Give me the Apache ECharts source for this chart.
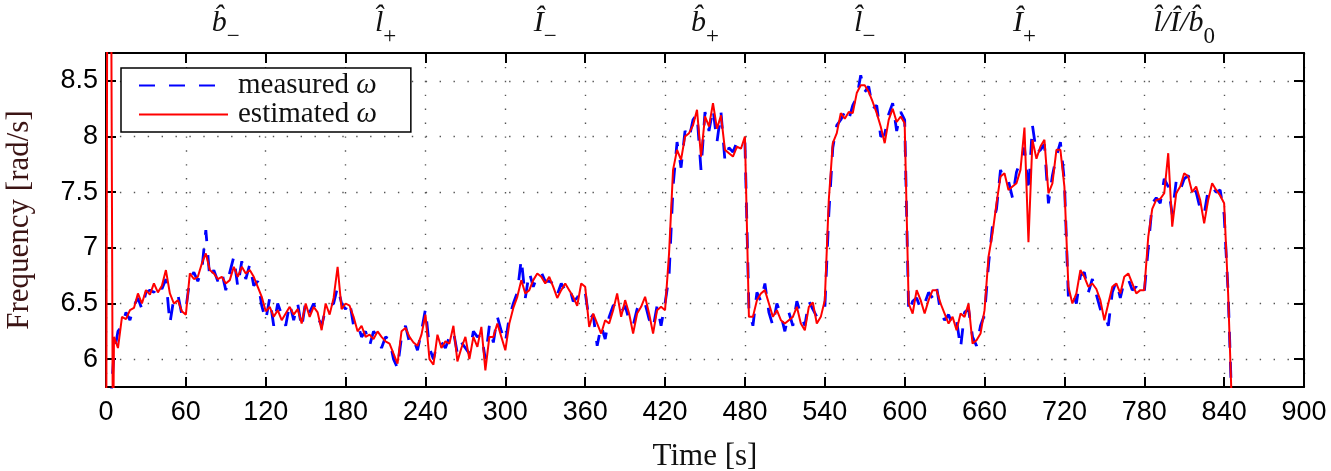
<!DOCTYPE html>
<html>
<head>
<meta charset="utf-8">
<script src="https://cdn.jsdelivr.net/npm/echarts@6/dist/echarts.min.js"></script>
<style>html,body{margin:0;padding:0;background:#fff}#c{width:1331px;height:471px}</style>
</head>
<body>
<div id="c"></div>
<script>
// ---- data ----
const timeStart = 6;   // s, first regular sample
const timeStep = 3;    // s, sampling step of the arrays below
// start-up transient (time, value)
const estStartT = [0, 1.2, 3.4, 5.2];
const estStartV = [4.0, 11.0, 11.0, 5.0];
const mesStartT = [3.5, 5];
const mesStartV = [5.6, 5.88];

const estimated = [
  6.2, 6.1, 6.38, 6.36, 6.44, 6.46, 6.59, 6.5, 6.62, 6.58,
  6.68, 6.6, 6.66, 6.8, 6.59, 6.5, 6.53, 6.43, 6.4, 6.77,
  6.72, 6.74, 6.86, 6.95, 6.8, 6.77, 6.72, 6.74, 6.68, 6.71,
  6.83, 6.74, 6.83, 6.77, 6.8, 6.74, 6.65, 6.56, 6.43, 6.47,
  6.38, 6.44, 6.35, 6.41, 6.47, 6.4, 6.45, 6.32, 6.5, 6.38,
  6.47, 6.42, 6.26, 6.5, 6.4, 6.55, 6.83, 6.45, 6.5, 6.48,
  6.38, 6.25, 6.3, 6.2, 6.22, 6.18, 6.25, 6.2, 6.16, 6.14,
  6.05, 5.96, 6.25, 6.28, 6.2, 6.15, 6.12, 6.22, 6.4, 6.0,
  5.95, 6.22, 6.1, 6.16, 6.14, 6.3, 5.98, 6.1, 6.2, 6.0,
  6.2, 6.11, 6.29, 5.9, 6.2, 6.2, 6.32, 6.2, 6.08, 6.32,
  6.46, 6.56, 6.71, 6.59, 6.62, 6.71, 6.77, 6.74, 6.68, 6.74,
  6.65, 6.55, 6.62, 6.68, 6.62, 6.56, 6.48, 6.68, 6.65, 6.29,
  6.41, 6.32, 6.23, 6.35, 6.32, 6.44, 6.59, 6.38, 6.53, 6.41,
  6.23, 6.41, 6.47, 6.56, 6.41, 6.23, 6.44, 6.47, 6.44, 6.95,
  7.7, 7.88, 7.79, 8.0, 8.03, 8.1, 8.24, 7.82, 8.18, 8.09,
  8.3, 8.07, 8.19, 7.88, 7.85, 7.82, 7.91, 7.89, 8.0, 6.38,
  6.38, 6.53, 6.59, 6.62, 6.5, 6.38, 6.44, 6.35, 6.32, 6.35,
  6.38, 6.47, 6.32, 6.26, 6.47, 6.51, 6.32, 6.38, 6.53, 7.43,
  7.94, 8.03, 8.21, 8.16, 8.22, 8.21, 8.39, 8.46, 8.46, 8.4,
  8.31, 8.21, 8.09, 7.94, 8.15, 8.25, 8.13, 8.18, 8.12, 6.5,
  6.41, 6.62, 6.53, 6.41, 6.53, 6.62, 6.62, 6.5, 6.41, 6.32,
  6.38, 6.26, 6.41, 6.38, 6.5, 6.14, 6.17, 6.23, 6.44, 6.92,
  7.13, 7.4, 7.64, 7.67, 7.52, 7.55, 7.58, 7.7, 8.08, 7.05,
  7.97, 7.8, 7.91, 7.97, 7.49, 7.58, 7.88, 7.88, 7.55, 6.65,
  6.5, 6.59, 6.8, 6.74, 6.65, 6.68, 6.63, 6.53, 6.35, 6.5,
  6.65, 6.68, 6.59, 6.74, 6.77, 6.68, 6.59, 6.62, 6.62, 7.1,
  7.35, 7.43, 7.44, 7.49, 7.85, 7.19, 7.49, 7.55, 7.67, 7.64,
  7.5, 7.55, 7.43, 7.22, 7.43, 7.58, 7.52, 7.47, 7.4, 6.59,
  5.5
];

const measured = [
  6.05, 6.25, 6.3, 6.42, 6.35, 6.48, 6.55, 6.45, 6.6, 6.62,
  6.6, 6.68, 6.63, 6.72, 6.32, 6.55, 6.58, 6.4, 6.45, 6.72,
  6.78, 6.7, 6.8, 7.16, 6.72, 6.8, 6.7, 6.78, 6.62, 6.78,
  6.92, 6.65, 6.88, 6.72, 6.85, 6.66, 6.7, 6.48, 6.35, 6.55,
  6.3, 6.5, 6.4, 6.3, 6.5, 6.35, 6.5, 6.28, 6.52, 6.42,
  6.5, 6.38, 6.3, 6.45, 6.48, 6.5, 6.65, 6.5, 6.45, 6.52,
  6.3, 6.32, 6.2, 6.25, 6.12, 6.25, 6.2, 6.1, 6.2, 6.18,
  6.0, 5.92, 6.2, 6.3, 6.15, 6.18, 6.08, 6.25, 6.45, 6.1,
  6.0, 6.15, 6.15, 6.1, 6.2, 6.25, 6.05, 6.15, 6.1, 6.05,
  6.25, 6.2, 6.22, 6.0, 6.3, 6.15, 6.38, 6.25, 6.15, 6.38,
  6.5, 6.6, 6.9, 6.55, 6.78, 6.65, 6.75, 6.78, 6.7, 6.7,
  6.68, 6.58, 6.68, 6.62, 6.65, 6.52, 6.55, 6.63, 6.6, 6.35,
  6.4, 6.12, 6.3, 6.18, 6.38, 6.48, 6.5, 6.42, 6.48, 6.35,
  6.3, 6.45, 6.52, 6.5, 6.36, 6.28, 6.48, 6.3, 6.5, 6.75,
  7.55, 7.95, 7.72, 8.05, 7.98, 8.15, 8.2, 7.7, 8.22, 8.05,
  8.25, 7.95, 8.22, 7.78, 7.9, 7.86, 7.95, 7.92, 7.95, 6.45,
  6.3, 6.6, 6.52, 6.68, 6.42, 6.3, 6.5, 6.4, 6.25, 6.42,
  6.3, 6.52, 6.4, 6.3, 6.52, 6.45, 6.38, 6.42, 6.45, 7.3,
  7.9, 8.1, 8.15, 8.22, 8.15, 8.28, 8.35, 8.55, 8.4, 8.45,
  8.25, 8.28, 8.0, 8.02, 8.2, 8.3, 8.05, 8.22, 8.15, 6.42,
  6.52, 6.55, 6.45, 6.5, 6.6, 6.55, 6.65, 6.42, 6.35, 6.4,
  6.3, 6.35, 6.1, 6.42, 6.45, 6.2, 6.12, 6.3, 6.4, 6.85,
  7.2, 7.35, 7.7, 7.6, 7.6, 7.45, 7.68, 7.78, 7.9, 7.5,
  8.1, 7.85, 7.88, 7.93, 7.4, 7.65, 7.82, 7.95, 7.6, 6.55,
  6.6, 6.5, 6.75, 6.78, 6.6, 6.72, 6.58, 6.45, 6.4, 6.3,
  6.6, 6.7, 6.55, 6.7, 6.72, 6.62, 6.65, 6.58, 6.6, 7.0,
  7.4, 7.45, 7.4, 7.62, 7.55, 7.3, 7.6, 7.52, 7.62, 7.65,
  7.55, 7.5, 7.35, 7.3, 7.52, 7.55, 7.5, 7.52, 7.3, 6.6,
  5.5
];

const yTicks = [6, 6.5, 7, 7.5, 8, 8.5];
const segMain = ['b\u0302', 'l\u0302', 'I\u0302', 'b\u0302', 'l\u0302', 'I\u0302', 'l\u0302/I\u0302/b\u0302'];
const segSub = ['\u2212', '+', '\u2212', '+', '\u2212', '+', '0'];
const segLabelTimes = [90, 210, 330, 450, 570, 690, 810];

// ---- build ----
function build(startT, startV, vals) {
  const out = [];
  for (let i = 0; i < startT.length; i++) out.push([startT[i], startV[i]]);
  for (let i = 0; i < vals.length; i++) out.push([timeStart + i * timeStep, vals[i]]);
  return out;
}
const mesData = build(mesStartT, mesStartV, measured);
const estData = build(estStartT, estStartV, estimated);

const sans = 'Liberation Sans, Arial, sans-serif';
const serif = 'Liberation Serif, DejaVu Serif, serif';
const axisLine = { show: true, onZero: false, lineStyle: { color: '#000', width: 2 } };
const tickIn = { show: true, inside: true, length: 10, lineStyle: { color: '#000', width: 2 } };
const gridDots = { show: true, lineStyle: { color: '#555', width: 1.4, type: [1.4, 12.5] } };

const chart = echarts.init(document.getElementById('c'), null, { renderer: 'canvas' });
chart.setOption({
  animation: false,
  backgroundColor: '#fff',
  grid: { left: 106, right: 27, top: 53, bottom: 84, containLabel: false, outerBoundsMode: 'none' },
  legend: {
    orient: 'vertical', left: 121, top: 68,
    backgroundColor: '#fff', borderColor: '#000', borderWidth: 1.5, borderRadius: 0,
    padding: [3, 34, 3, 17], itemGap: 0, itemWidth: 89, itemHeight: 14,
    itemStyle: { opacity: 0 },
    data: ['measured ω', 'estimated ω'],
    formatter: function (name) { return '{n|' + name.replace(' ω', ' ') + '}{w|ω}'; },
    textStyle: {
      fontFamily: serif, fontSize: 29, color: '#111', lineHeight: 28,
      rich: {
        n: { fontFamily: serif, fontSize: 29, color: '#111', lineHeight: 28, padding: [0, 0, 0, 5] },
        w: { fontFamily: serif, fontSize: 29, fontStyle: 'italic', color: '#111', lineHeight: 28 }
      }
    }
  },
  xAxis: [{
    type: 'value', position: 'bottom', min: 0, max: 900, interval: 60,
    name: 'Time [s]', nameLocation: 'middle', nameGap: 54,
    nameTextStyle: { fontFamily: serif, fontSize: 31, color: '#111' },
    axisLine: axisLine, axisTick: tickIn,
    axisLabel: { fontFamily: sans, fontSize: 27, color: '#000', margin: 12 },
    splitLine: gridDots
  }, {
    type: 'value', position: 'top', min: 0, max: 900, interval: 60,
    axisLine: axisLine, axisTick: tickIn,
    axisLabel: {
      show: true, customValues: segLabelTimes, margin: 5,
      formatter: function (v) {
        const k = segLabelTimes.indexOf(v);
        return k >= 0 ? '{m|' + segMain[k] + '}{s|' + segSub[k] + '}' : '';
      },
      rich: {
        m: { fontFamily: serif, fontSize: 30, fontStyle: 'italic', color: '#111', lineHeight: 40, verticalAlign: 'top' },
        s: { fontFamily: serif, fontSize: 23, color: '#111', lineHeight: 16, verticalAlign: 'bottom' }
      }
    },
    splitLine: { show: false }
  }],
  yAxis: [{
    type: 'value', position: 'left', min: 5.75, max: 8.75,
    name: 'Frequency [rad/s]', nameLocation: 'middle', nameGap: 71, nameRotate: 90,
    nameTextStyle: { fontFamily: serif, fontSize: 31, color: '#3b1414' },
    axisLine: axisLine,
    axisTick: Object.assign({}, tickIn, { customValues: yTicks }),
    axisLabel: { fontFamily: sans, fontSize: 27, color: '#000', margin: 8, customValues: yTicks,
      formatter: function (v) { return String(v); } },
    splitLine: gridDots
  }, {
    type: 'value', position: 'right', min: 5.75, max: 8.75,
    axisLine: axisLine,
    axisTick: Object.assign({}, tickIn, { customValues: yTicks }),
    axisLabel: { show: false },
    splitLine: { show: false }
  }],
  series: [{
    name: 'measured ω', type: 'line', xAxisIndex: 0, yAxisIndex: 0,
    data: mesData, showSymbol: false, symbol: 'none',
    lineStyle: { color: '#0000ff', width: 2.8, type: [16, 14] },
    itemStyle: { color: '#0000ff' }, z: 2
  }, {
    name: 'estimated ω', type: 'line', xAxisIndex: 0, yAxisIndex: 0,
    data: estData, showSymbol: false, symbol: 'none',
    lineStyle: { color: '#ff0000', width: 2 },
    itemStyle: { color: '#ff0000' }, z: 3
  }]
});
</script>
</body>
</html>
